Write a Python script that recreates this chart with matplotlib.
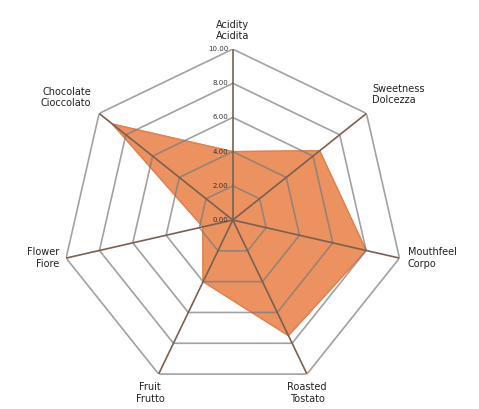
import numpy as np
import matplotlib
matplotlib.use('Agg')
import matplotlib.pyplot as plt

labels = ['Acidity\nAcidita', 'Sweetness\nDolcezza', 'Mouthfeel\nCorpo', 'Roasted\nTostato',
          'Fruit\nFrutto', 'Flower\nFiore', 'Chocolate\nCioccolato']
values = [4.0, 6.5, 8.0, 7.5, 4.0, 1.8, 9.0]
rings = [2, 4, 6, 8, 10]
ring_labels = ['0.00', '2.00', '4.00', '6.00', '8.00', '10.00']

n = len(labels)
theta = np.linspace(0, 2 * np.pi, n, endpoint=False)
theta_c = np.append(theta, theta[0])

fig = plt.figure(figsize=(4.79, 4.09), dpi=100)
ax = fig.add_axes([0.129, 0.044, 0.714, 0.836], projection='polar')
ax.set_theta_offset(np.pi / 2)
ax.set_theta_direction(-1)
ax.set_ylim(0, 10)
ax.axis('off')

v = np.append(values, values[0])
ax.fill(theta_c, v, color='#ec9260', zorder=1)
ax.plot(theta_c, v, color='#e08050', lw=1, zorder=2)

for r in rings:
    ax.plot(theta_c, [r] * (n + 1), color='#7a7a7a', lw=1.2, alpha=0.7, zorder=3)
for t in theta:
    ax.plot([t, t], [0, 10], color='#7b6050', lw=1.2, zorder=3)

for i, lab in enumerate(ring_labels):
    ax.annotate(lab, xy=(0, i * 2), xytext=(-3, 0), textcoords='offset points',
                ha='right', va='center', fontsize=5, color='#333333', zorder=4)

offsets = [(0, 6), (4, 6), (6, 0), (0, -6), (-6, -6), (-5, 0), (-6, 4)]
aligns = [('center', 'bottom'), ('left', 'bottom'), ('left', 'center'), ('center', 'top'),
          ('center', 'top'), ('right', 'center'), ('right', 'bottom')]
for t, lab, off, (ha, va) in zip(theta, labels, offsets, aligns):
    ax.annotate(lab, xy=(t, 10), xytext=off, textcoords='offset points',
                ha=ha, va=va, fontsize=7, color='#222222', linespacing=1.15,
                annotation_clip=False)

fig.savefig('out.png', dpi=100, facecolor='white')
